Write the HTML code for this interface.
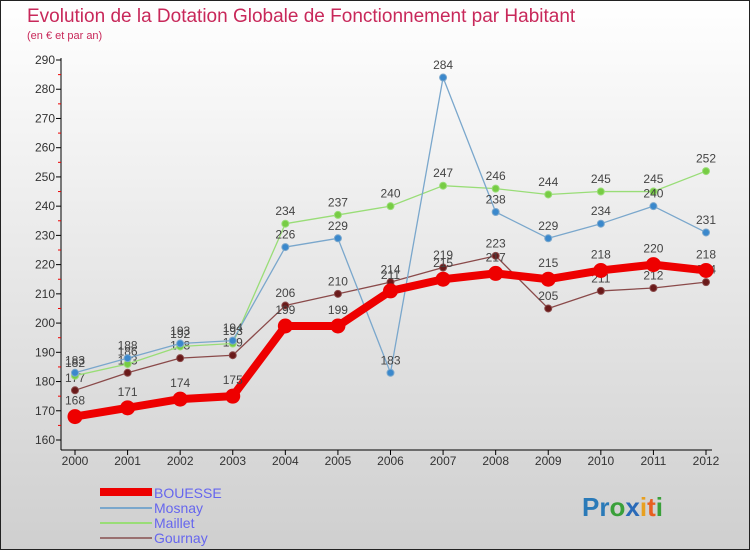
<!DOCTYPE html>
<html><head><meta charset="utf-8"><style>
body{margin:0}
svg{display:block;font-family:"Liberation Sans",sans-serif}
</style></head><body>
<svg id="c" width="750" height="550">
<defs><linearGradient id="bg" x1="0" y1="0" x2="0" y2="1"><stop offset="0" stop-color="#ffffff"/><stop offset="1" stop-color="#cfcfcf"/></linearGradient></defs>
<rect x="0.5" y="0.5" width="749" height="549" fill="url(#bg)" stroke="#222"/>
<text x="27" y="22" font-size="19" fill="#c8285a">Evolution de la Dotation Globale de Fonctionnement par Habitant</text>
<text x="27" y="39" font-size="11" fill="#c8285a">(en € et par an)</text>
<g id="axes"></g><g id="plot"></g>
<g>
<rect x="100" y="488" width="52" height="8" fill="#e00"/>
<text x="154" y="498" font-size="14" fill="#6666ee">BOUESSE</text>
<rect x="100" y="507" width="52" height="2" fill="#7aa7cc"/>
<text x="154" y="513" font-size="14" fill="#6666ee">Mosnay</text>
<rect x="100" y="522" width="52" height="2" fill="#99dd77"/>
<text x="154" y="528" font-size="14" fill="#6666ee">Maillet</text>
<rect x="100" y="537" width="52" height="2" fill="#997070"/>
<text x="154" y="543" font-size="14" fill="#6666ee">Gournay</text>
</g>
<text x="582" y="516" font-size="26" font-weight="bold"><tspan fill="#2a7ab8">Pr</tspan><tspan fill="#3aa03a">o</tspan><tspan fill="#2a6ab8">x</tspan><tspan fill="#e8a020">i</tspan><tspan fill="#e86020">t</tspan><tspan fill="#3aa03a">i</tspan></text>
</svg>
<script>
const years=["2000","2001","2002","2003","2004","2005","2006","2007","2008","2009","2010","2011","2012"];
const yTicks=[160,170,180,190,200,210,220,230,240,250,260,270,280,290];
const bouesse=[168,171,174,175,199,199,211,215,217,215,218,220,218];
const mosnay=[183,188,193,194,226,229,183,284,238,229,234,240,231];
const maillet=[182,186,192,193,234,237,240,247,246,244,245,245,252];
const gournay=[177,183,188,189,206,210,214,219,223,205,211,212,214];
const NS="http://www.w3.org/2000/svg";
const xS=i=>75+i*(706-75)/12;
const yS=v=>440-(v-160)*(380/130);
function mk(t,a,p){const e=document.createElementNS(NS,t);for(const k in a)e.setAttribute(k,a[k]);p.appendChild(e);return e;}
const ax=document.getElementById('axes'),pl=document.getElementById('plot');
let l=mk('line',{x1:61,y1:58,x2:61,y2:450,stroke:'#000'},ax);


l=mk('line',{x1:61,y1:450,x2:712,y2:450,stroke:'#000'},ax);


yTicks.forEach(v=>{const y=yS(v);
mk('line',{x1:56,y1:y,x2:61,y2:y,stroke:'#000'},ax);
if(v<290)mk('line',{x1:58,y1:y-14.6,x2:61,y2:y-14.6,stroke:'#e00'},ax);
const t=mk('text',{x:55,y:y+4,'font-size':12,'text-anchor':'end',fill:'#333'},ax);t.textContent=v;

});
years.forEach((yr,i)=>{const x=xS(i);
mk('line',{x1:x,y1:450,x2:x,y2:455,stroke:'#000'},ax);
const t=mk('text',{x:x,y:465,'font-size':12,'text-anchor':'middle',fill:'#333'},ax);t.textContent=yr;

});
function series(name,data,color,dot,w,r){
const g=mk('g',{},pl);


mk('polyline',{points:data.map((v,i)=>xS(i)+','+yS(v)).join(' '),fill:'none',stroke:color,'stroke-width':w,'stroke-linejoin':'round'},g);
data.forEach((v,i)=>{const c=mk('circle',{cx:xS(i),cy:yS(v),r:r,fill:dot,stroke:color},g);


const t=mk('text',{x:xS(i),y:yS(v)-(r+5),'font-size':12,'text-anchor':'middle',fill:'#444'},g);t.textContent=v;

});}
series('gournay',gournay,'#8a4a4a','#6a1a1a',1.3,3.5);
series('maillet',maillet,'#99dd77','#77cc44',1.3,3.5);
series('mosnay',mosnay,'#7aa7cc','#3a88cc',1.3,3.5);
series('bouesse',bouesse,'#ee0000','#ee0000',8,7);
</script>
</body></html>
